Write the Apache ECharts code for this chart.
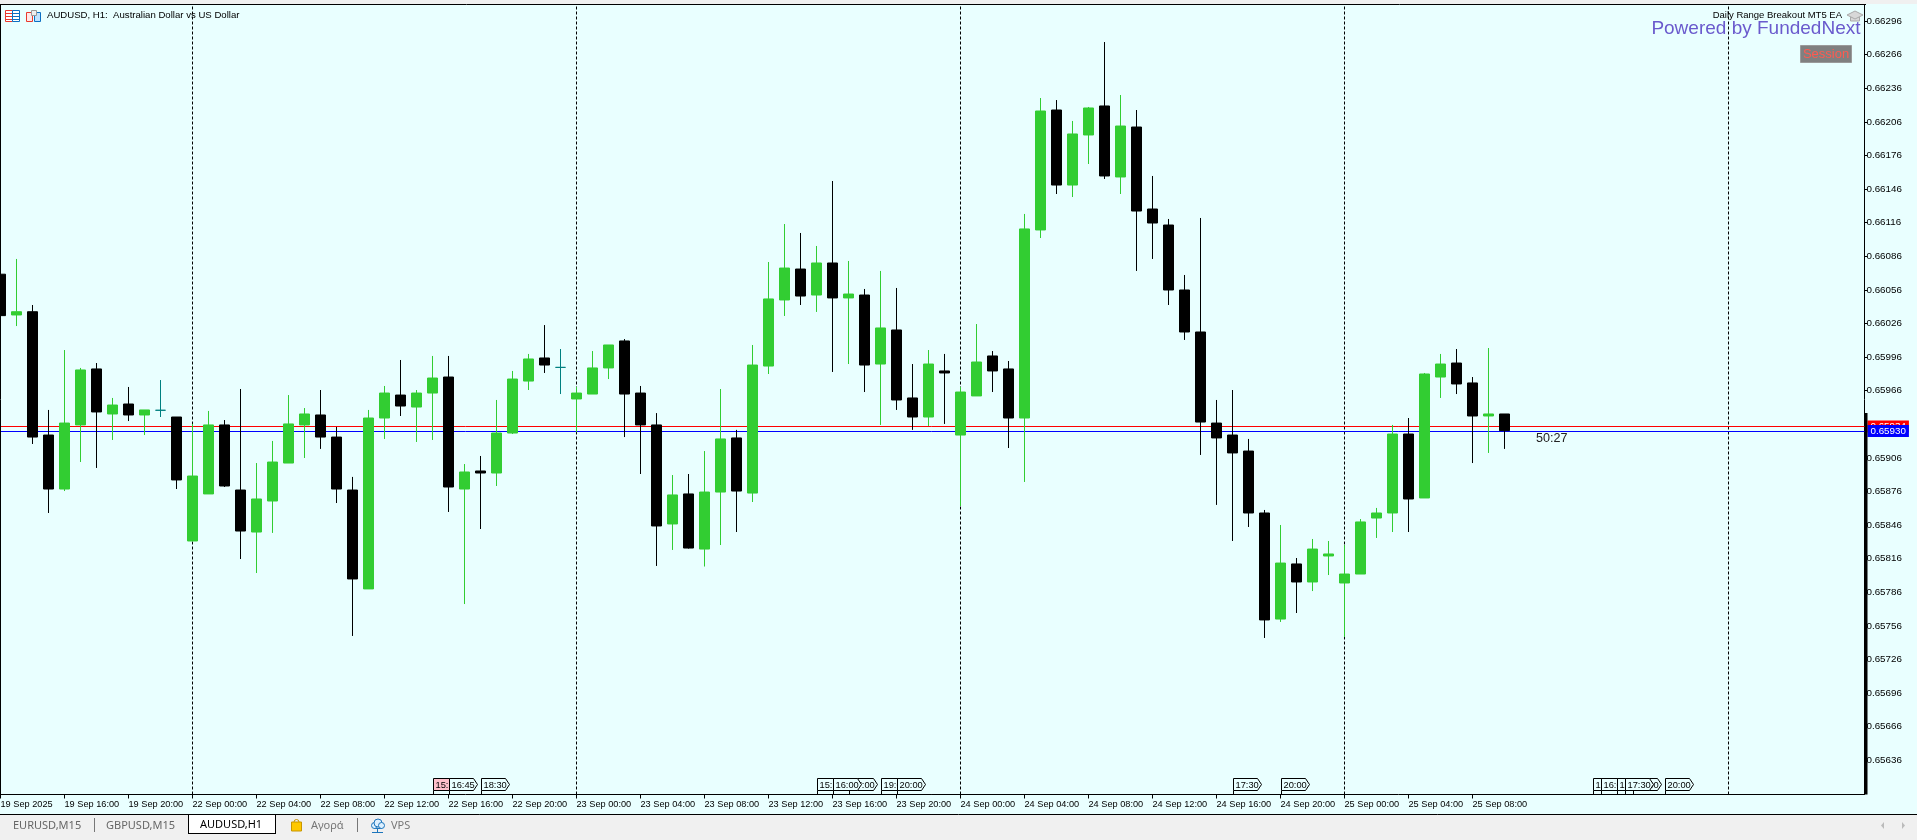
<!DOCTYPE html>
<html><head><meta charset="utf-8">
<style>html,body{margin:0;padding:0;background:#F0F0F0;overflow:hidden}#c{width:1917px;height:840px}</style>
<script src="https://cdn.jsdelivr.net/npm/echarts@6/dist/echarts.min.js"></script>
</head><body><div id="c"></div>
<script>
const tickLabels = ['19 Sep 2025','19 Sep 16:00','19 Sep 20:00','22 Sep 00:00','22 Sep 04:00','22 Sep 08:00','22 Sep 12:00','22 Sep 16:00','22 Sep 20:00',
 '23 Sep 00:00','23 Sep 04:00','23 Sep 08:00','23 Sep 12:00','23 Sep 16:00','23 Sep 20:00','24 Sep 00:00','24 Sep 04:00','24 Sep 08:00','24 Sep 12:00','24 Sep 16:00','24 Sep 20:00',
 '25 Sep 00:00','25 Sep 04:00','25 Sep 08:00'];
const priceTicks = [0.66296,0.66266,0.66236,0.66206,0.66176,0.66146,0.66116,0.66086,0.66056,0.66026,0.65996,0.65966,0.65906,0.65876,0.65846,0.65816,0.65786,0.65756,0.65726,0.65696,0.65666,0.65636];
const opens = [.660700,.660336,.660365,.659264,.658782,.659354,.659854,.659452,.659541,.659443,.659485,.659425,.658318,.658738,.659354,.658773,.658398,.658675,.659014,.659354,.659443,.659246,.658773,.657890,.659416,.659621,.659514,.659639,.659782,.658782,.658943,.658925,.659282,.659746,.659952,.659868,.659586,.659630,.659863,.660104,.659639,.659354,.658470,.658738,.658246,.658755,.659238,.658746,.659880,.660470,.660746,.660514,.660800,.660488,.660514,.659898,.660202,.659595,.659425,.659836,.659264,.659613,.659970,.659854,.659416,.661095,.662166,.661496,.661943,.662202,.661568,.662014,.661282,.661139,.660559,.660184,.659371,.659264,.659121,.658568,.657621,.658113,.657952,.658184,.657943,.658023,.658523,.658568,.659273,.658702,.659782,.659907,.659729,.659434,.659452];
const closes = [.660330,.660365,.659246,.658782,.659371,.659845,.659470,.659532,.659443,.659488,.659485,.658863,.658898,.659354,.658809,.658407,.658693,.659023,.659363,.659452,.659246,.658782,.657979,.659416,.659639,.659523,.659639,.659773,.658800,.658934,.658925,.659282,.659764,.659943,.659889,.659868,.659639,.659863,.660068,.659630,.659354,.658452,.658729,.658255,.658755,.659229,.658764,.659889,.660479,.660755,.660505,.660800,.660488,.660523,.659889,.660220,.659577,.659425,.659898,.659818,.659648,.659916,.659836,.659416,.661104,.662157,.661496,.661952,.662184,.661577,.662023,.661264,.661157,.660559,.660184,.659380,.659238,.659104,.658568,.657613,.658121,.657952,.658246,.658202,.658023,.658488,.658568,.659273,.658693,.659809,.659898,.659720,.659434,.659452,.659303];
const highs = [.660720,.660836,.660425,.659488,.660023,.659863,.659907,.659595,.659693,.659488,.659755,.659425,.659363,.659479,.659398,.659675,.659014,.659211,.659621,.659505,.659666,.659336,.658890,.659488,.659702,.659934,.659666,.659970,.659970,.659005,.659077,.659577,.659836,.659988,.660246,.660032,.659693,.660014,.660068,.660121,.659702,.659460,.658907,.658916,.659121,.659675,.659310,.660068,.660809,.661148,.661068,.660952,.661532,.660818,.660568,.660729,.660577,.659898,.660023,.659988,.659693,.660255,.660014,.659925,.661238,.662273,.662255,.662068,.662193,.662773,.662300,.662166,.661577,.661193,.660693,.661202,.659577,.659666,.659229,.658595,.658461,.658166,.658336,.658318,.658282,.658514,.658613,.659354,.659416,.659818,.659988,.660032,.659782,.660041,.659452];
const lows = [.660300,.660237,.659184,.658568,.658764,.659023,.658970,.659220,.659389,.659264,.659425,.658782,.658318,.658738,.658800,.658157,.658032,.658390,.659014,.659059,.659140,.658657,.657470,.657890,.659229,.659434,.659202,.659220,.658577,.657755,.658425,.658809,.659273,.659666,.659818,.659630,.659290,.659630,.659764,.659246,.658916,.658095,.658238,.658250,.658090,.658282,.658398,.658666,.659809,.660327,.660425,.660363,.659827,.659898,.659648,.659354,.659488,.659310,.659345,.659363,.658630,.659613,.659648,.659148,.658845,.661023,.661416,.661389,.661684,.661550,.661416,.660729,.660836,.660425,.660113,.659086,.658640,.658318,.658443,.657452,.657595,.657675,.657871,.658014,.657461,.658023,.658345,.658398,.658398,.658702,.659595,.659630,.659014,.659104,.659140];
const dojiBars = [10,35];
const separatorBars = [12,36,60,84,108];
const bidPrice = 0.65930, askPrice = 0.65934;
const eventTags = [
 {bar:27,half:0,text:'15:30',pink:true},{bar:28,half:0,text:'16:45'},{bar:30,half:0,text:'18:30'},
 {bar:51,half:0,text:'15:30'},{bar:53,half:0,text:'17:00'},{bar:52,half:0,text:'16:00'},{bar:55,half:0,text:'19:00'},{bar:56,half:0,text:'20:00'},
 {bar:77,half:0,text:'17:30'},{bar:80,half:0,text:'20:00'},
 {bar:99,half:1,text:'15:30'},{bar:100,half:0,text:'16:00'},{bar:101,half:0,text:'16:45'},{bar:102,half:0,text:'18:00'},{bar:101,half:1,text:'17:30'},{bar:104,half:0,text:'20:00'}
];

const BG='#E9FFFF', GREEN='#32CD32', FONT='"Liberation Sans", Arial, sans-serif';
const BAR_COUNT=117, Y_MIN=0.6560545, Y_MAX=0.6631080;
const categories = Array.from({length:BAR_COUNT},(_,i)=> i%4===0 && tickLabels[i/4] ? tickLabels[i/4] : '');
const candleData = opens.map((o,i)=>{
  const item={value:[o,closes[i],lows[i],highs[i]]};
  if(dojiBars.includes(i)) item.itemStyle={borderColor:'#008080',borderColor0:'#008080',borderColorDoji:'#008080'};
  return item;
});
const isTick = i => i%4===0 && i<=92;
const chart = echarts.init(document.getElementById('c'),null,{renderer:'canvas'});

const txt=(x,y,text,font,fill,align)=>({type:'text',silent:true,z:50,style:{x,y,text,font,fill,align:align||'left',verticalAlign:'middle'}});
const rect=(x,y,w,h,fill,stroke,z)=>({type:'rect',silent:true,z:z||40,shape:{x,y,width:w,height:h},style:{fill:fill||'none',stroke:stroke||'none',lineWidth:1}});
const hline=(x1,y1,x2,y2,c,w)=>({type:'line',silent:true,z:45,shape:{x1,y1,x2,y2},style:{stroke:c,lineWidth:w||1}});
const circ=(cx,cy,r,fill,stroke)=>({type:'circle',silent:true,z:46,shape:{cx,cy,r},style:{fill,stroke,lineWidth:1}});
const tabFont='11px "Noto Sans", sans-serif';
const chrome=[
 rect(0,0,1917,4,'#F0F0F0'),
 hline(0,4.5,1866,4.5,'#000'),
 hline(0.5,4,0.5,795,'#000'),
 rect(1865,413,2.5,381.5,'#000'),
 // bottom strip
 rect(0,815,1917,25,'#F0F0F0'),
 hline(0,814.5,1917,814.5,'#000'),
 rect(188.5,815,87,18,'#FFFFFF'),
 hline(188.5,815,188.5,833,'#000'),hline(188,833.5,276,833.5,'#000'),hline(275.5,815,275.5,834,'#000'),
 hline(94.5,818,94.5,832,'#777'),hline(357.5,818,357.5,832,'#777'),
 txt(13,825.5,'EURUSD,M15',tabFont,'#666'),
 txt(106,825.5,'GBPUSD,M15',tabFont,'#666'),
 txt(200,824.5,'AUDUSD,H1',tabFont,'#000'),
 txt(311,825.5,'Αγορά',tabFont,'#777'),
 txt(391,825.5,'VPS',tabFont,'#777'),
 {type:'rect',silent:true,z:46,shape:{x:291.5,y:822,width:10,height:9},style:{fill:'#FFC800',stroke:'#C89600',lineWidth:1}},
 {type:'arc',silent:true,z:46,shape:{cx:296.5,cy:822,r:2.5,startAngle:Math.PI,endAngle:0},style:{fill:'none',stroke:'#C89600',lineWidth:1}},
 circ(374.5,825.5,3,'#DDF0FF','#1C75BC'),circ(378,823,4,'#DDF0FF','#1C75BC'),circ(381.5,825.5,3,'#DDF0FF','#1C75BC'),
 hline(374,828.5,382,828.5,'#1C75BC'),hline(377.5,828.5,377.5,832.5,'#1C75BC'),hline(372,832.5,383,832.5,'#1C75BC'),
 {type:'polygon',silent:true,z:46,shape:{points:[[1884,822],[1884,829],[1881,825.5]]},style:{fill:'#BBB'}},
 {type:'polygon',silent:true,z:46,shape:{points:[[1902,822],[1902,829],[1905,825.5]]},style:{fill:'#BBB'}},
 // top-left icons
 rect(5.5,10.5,7,11,'#fff','#E8392E'),rect(12.5,10.5,7,11,'#fff','#0B6FC2'),
 hline(6,13.5,12,13.5,'#E8392E'),hline(6,16.5,12,16.5,'#E8392E'),hline(6,19.5,12,19.5,'#E8392E'),
 hline(13,13.5,19,13.5,'#0B6FC2'),hline(13,16.5,19,16.5,'#0B6FC2'),hline(13,19.5,19,19.5,'#0B6FC2'),
 rect(26.5,12.5,6,9,'#FFE8E8','#E8392E'),rect(34.5,12.5,6,9,'#BFE3FF','#0B6FC2'),rect(31.5,10.5,5,5,'#EEE','#999'),
 txt(47,15.7,'AUDUSD, H1:  Australian Dollar vs US Dollar','9.6px '+FONT,'#000'),
 // EA text
 txt(1842,15.7,'Daily Range Breakout MT5 EA','9.5px '+FONT,'#000','right'),
 {type:'polygon',silent:true,z:46,shape:{points:[[1847,15],[1855,11],[1863,15],[1855,19]]},style:{fill:'#D8D8D8',stroke:'#AAA',lineWidth:1}},
 rect(1850.5,17,9,4,'#D8D8D8','#AAA'),
 txt(1860.5,28.5,'Powered by FundedNext','19px '+FONT,'#6A5ACD','right'),
 rect(1800.5,45.5,51,17,'#808080','#9A9A9A'),
 txt(1826,54.5,'Session','13px '+FONT,'#FF5A50','center'),
 txt(1536,438.5,'50:27','12.6px '+FONT,'#222')
];

chart.setOption({
 animation:false,
 backgroundColor:BG,
 grid:{left:-7.5,top:4.5,width:1872,height:790,containLabel:false,outerBoundsMode:'none'},
 xAxis:{type:'category',data:categories,boundaryGap:true,
   axisLine:{show:true,onZero:false,lineStyle:{color:'#000',width:1}},
   axisTick:{show:true,alignWithLabel:true,length:4,interval:isTick,lineStyle:{color:'#000'}},
   axisLabel:{show:true,interval:isTick,align:'left',margin:5,color:'#000',fontSize:9.2,fontFamily:FONT,hideOverlap:false},
   splitLine:{show:false}},
 yAxis:{type:'value',position:'right',min:Y_MIN,max:Y_MAX,
   axisLine:{show:true,lineStyle:{color:'#000',width:1}},
   axisTick:{show:true,length:3,customValues:priceTicks,lineStyle:{color:'#000'}},
   axisLabel:{show:true,customValues:priceTicks,margin:2,color:'#000',fontSize:9.8,fontFamily:FONT,formatter:v=>v.toFixed(5)},
   splitLine:{show:false}},
 series:[
  {type:'line',data:[],z:1,silent:true,
   markLine:{silent:true,symbol:'none',z:1,animation:false,precision:6,
     data:[
      ...separatorBars.map(b=>({xAxis:b,lineStyle:{color:'#000',type:[3,2],width:1},label:{show:false}})),
      {yAxis:askPrice,lineStyle:{color:'#FF0000',type:'solid',width:1},
       label:{show:true,position:'end',distance:3,formatter:askPrice.toFixed(5),color:'#fff',backgroundColor:'#FF0000',padding:[1,3],fontSize:9.8,fontFamily:FONT}},
      {yAxis:bidPrice,lineStyle:{color:'#0000FF',type:'solid',width:1},
       label:{show:true,position:'end',distance:3,formatter:bidPrice.toFixed(5),color:'#fff',backgroundColor:'#0000FF',padding:[1,3],fontSize:9.8,fontFamily:FONT}}
     ]}},
  {type:'candlestick',z:3,barWidth:10,data:candleData,clip:true,
   itemStyle:{color:GREEN,color0:'#000',borderColor:GREEN,borderColor0:'#000',borderWidth:1,borderColorDoji:GREEN}},
  {type:'custom',z:4,silent:true,clip:false,
   data:eventTags.map(t=>[t.bar,Y_MIN]),
   encode:{x:0,y:1},
   renderItem:(p,api)=>{
     const t=eventTags[p.dataIndex];
     const pt=api.coord([t.bar,Y_MIN]);
     const x=Math.round(pt[0]+(t.half?8:0))+0.5, yB=pt[1];
     const top=778.5-794.5+yB, bot=790.5-794.5+yB, w=28, mid=(top+bot)/2;
     return {type:'group',children:[
       {type:'line',shape:{x1:x,y1:bot,x2:x,y2:yB},style:{stroke:'#000',lineWidth:1}},
       {type:'polygon',shape:{points:[[x,top],[x+w-4,top],[x+w,mid],[x+w-4,bot],[x,bot]]},style:{fill:t.pink?'#FFC0CB':BG,stroke:'#000',lineWidth:1}},
       {type:'text',style:{x:x+2,y:mid+0.5,text:t.text,font:'9.3px '+FONT,fill:'#000',verticalAlign:'middle',align:'left'}}
     ]};
   }}
 ],
 graphic:{elements:chrome}
});
</script></body></html>
